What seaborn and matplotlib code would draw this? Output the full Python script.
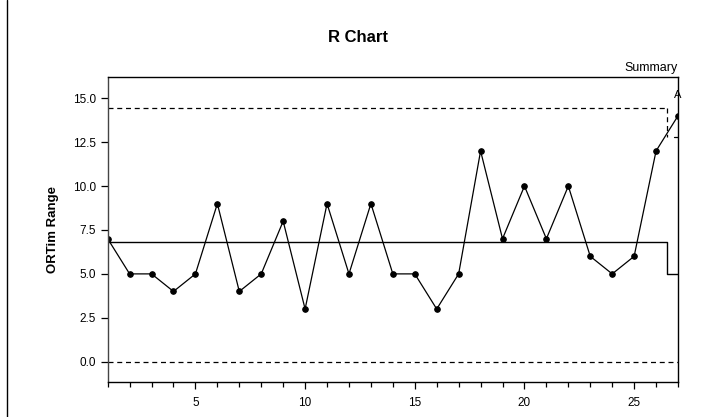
import numpy as np
import pandas as pd
import matplotlib
matplotlib.use("Agg")
import matplotlib.pyplot as plt
import seaborn as sns
from matplotlib.ticker import MultipleLocator

# ---- data ----
subgroups = list(range(1, 28))
ranges = [7, 5, 5, 4, 5, 9, 4, 5, 8, 3, 9, 5, 9, 5, 5, 3, 5, 12, 7, 10, 7, 10, 6, 5, 6, 12, 14]
center_line = 6.83
ucl = 14.44
lcl = 0.0
summary_center = 5.0
summary_ucl = 12.78
summary_start = 26.5
y_ticks = [0.0, 2.5, 5.0, 7.5, 10.0, 12.5, 15.0]
x_major = [5, 10, 15, 20, 25]

sns.set_style("ticks")
plt.rcParams['font.family'] = ['Liberation Sans', 'DejaVu Sans']
plt.rcParams['text.color'] = 'black'
plt.rcParams['xtick.color'] = 'black'
plt.rcParams['ytick.color'] = 'black'
plt.rcParams['axes.labelcolor'] = 'black'

fig = plt.figure(figsize=(7.17, 4.17), dpi=100)
ax = fig.add_axes([0.1502, 0.0846, 0.9456 - 0.1502, 0.8153 - 0.0846])

df = pd.DataFrame({"Subgroup": subgroups, "Range": ranges})
sns.lineplot(data=df, x="Subgroup", y="Range", ax=ax, color="black", linewidth=0.9,
             marker="o", markersize=4, markeredgecolor="black", markerfacecolor="black")

# center line with summary step
ax.plot([subgroups[0], summary_start, summary_start, subgroups[-1]],
        [center_line, center_line, summary_center, summary_center],
        color="black", linewidth=1.0)
# UCL dashed with summary step
ax.plot([subgroups[0], summary_start], [ucl, ucl], color="black", linewidth=0.9, linestyle=(0, (4, 3)))
ax.plot([summary_start, summary_start], [ucl, summary_ucl], color="black", linewidth=0.9, linestyle=(0, (4, 3)))
ax.plot([summary_start + 0.3, subgroups[-1]], [summary_ucl, summary_ucl], color="black", linewidth=0.9)
# LCL dashed
ax.plot([subgroups[0], subgroups[-1]], [lcl, lcl], color="black", linewidth=0.9, linestyle=(0, (4, 3)))

ax.text(subgroups[-1], ranges[-1] + 0.9, "A", ha="center", va="bottom", fontsize=8, color="black")

ax.set_xlim(1, 27)
ax.set_ylim(-1.14, 16.21)
ax.set_yticks(y_ticks)
ax.set_yticklabels([f"{v:.1f}" for v in y_ticks])
ax.set_xticks(x_major)
ax.set_xticklabels([str(v) for v in x_major])
ax.xaxis.set_minor_locator(MultipleLocator(1))
ax.tick_params(axis="both", which="major", labelsize=8.5, length=5, width=0.9, color="black", direction="out")
ax.tick_params(axis="x", which="minor", length=3.5, width=0.9, color="black", direction="out")
ax.tick_params(axis="x", pad=6)
ax.set_xlabel("")
ax.set_ylabel("ORTim Range", fontsize=9.5, fontweight="bold", labelpad=10)

for s in ax.spines.values():
    s.set_visible(True)
    s.set_color("black")
    s.set_linewidth(1.0)
ax.spines["left"].set_color("#444444")

fig.text(0.5, 0.91, "R Chart", ha="center", va="center", fontsize=12, fontweight="bold")
fig.text(0.9456, 0.823, "Summary", ha="right", va="bottom", fontsize=9)

# figure border line (left)
fig.add_artist(plt.Line2D([7/717, 7/717], [0, 1], color="black", linewidth=1.0, transform=fig.transFigure))

fig.savefig("out.png", dpi=100)
